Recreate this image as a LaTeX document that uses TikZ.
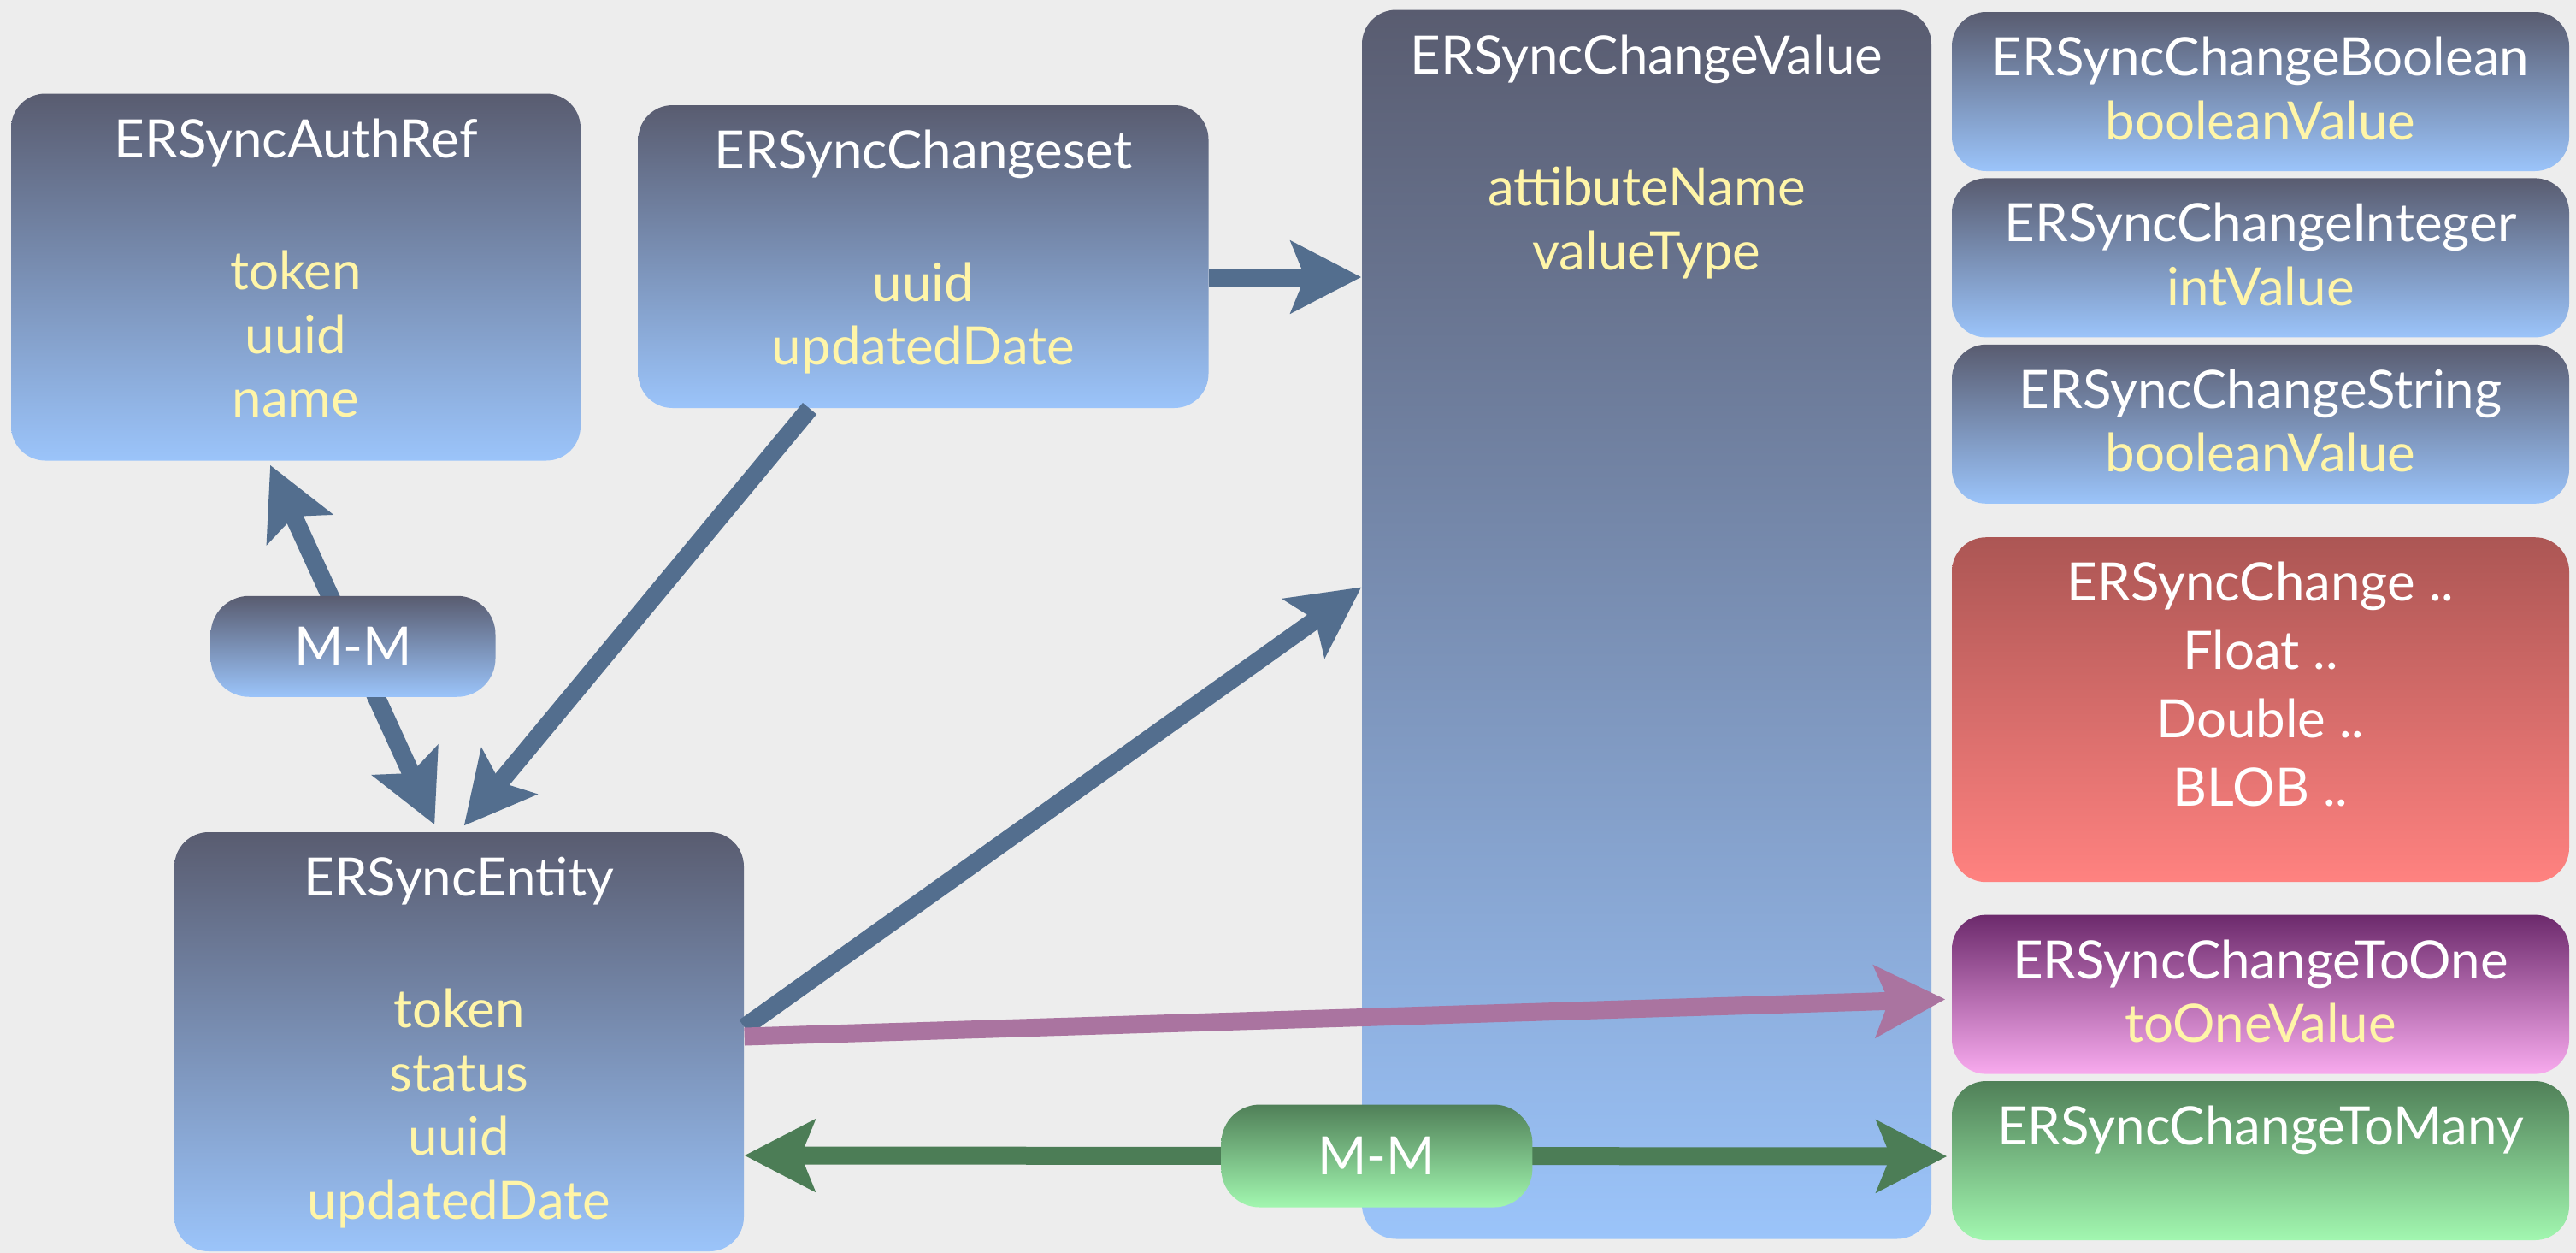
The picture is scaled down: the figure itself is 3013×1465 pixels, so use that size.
\documentclass[tikz,border=0pt]{standalone}
\usepackage{fontspec}
\setmainfont{Lato}
\usepackage{xcolor}
\usetikzlibrary{arrows.meta,positioning}

\definecolor{paper}{HTML}{EDEDED}
\definecolor{attr}{HTML}{FFF5A8}
\definecolor{slatetop}{HTML}{595C70}
\definecolor{slatebot}{HTML}{9BC4FA}
\definecolor{redtop}{HTML}{AC5654}
\definecolor{redbot}{HTML}{FF8280}
\definecolor{plumtop}{HTML}{6C2A6C}
\definecolor{plumbot}{HTML}{F8AAEE}
\definecolor{leaftop}{HTML}{508058}
\definecolor{leafbot}{HTML}{A2F7B0}
\definecolor{linkblue}{HTML}{536E8E}
\definecolor{linkplum}{HTML}{AA74A0}
\definecolor{linkleaf}{HTML}{4C7D56}

\newcommand{\boxfont}{\fontsize{17.6pt}{21.2pt}\selectfont}
\newcommand{\fld}[1]{\textcolor{attr}{#1}}

\begin{document}
\begin{tikzpicture}[x=0.1mm,y=-0.1mm,node distance=0.7mm,
  box/.style={shade,rounded corners=4mm,top color=#1top,bottom color=#1bot,inner sep=0pt,minimum width=66.6mm},
  box/.default=slate,
  side/.style={box=#1,minimum width=72.2mm,minimum height=18.6mm},
  side/.default=slate,
  head/.style={anchor=north,yshift=-2.9mm,inner sep=0pt,align=center,text=white,font=\boxfont},
  rel/.style={box=#1,rounded corners=4.5mm,minimum width=33.3mm,minimum height=11.8mm,text=white,font=\boxfont},
  rel/.default=slate,
  link/.style={line width=2.1mm,draw=#1},
  fat/.tip={Stealth[length=8.2mm,width=8.3mm,inset=1.6mm]}]

  \useasboundingbox (0,0) rectangle (3013,1465);
  \fill[paper] (0,0) rectangle (3013,1465);

  % left and middle entities
  \node[box,minimum height=42.9mm,
    label={[head]north:{ERSyncAuthRef\\[8mm]\fld{token}\\\fld{uuid}\\\fld{name}}}] (auth) at (346,324) {};
  \node[box,minimum width=66.7mm,minimum height=35.4mm,
    label={[head]north:{ERSyncChangeset\\[8mm]\fld{uuid}\\\fld{updatedDate}}}] (cs) at (1080,300) {};
  \node[box,minimum height=49mm,
    label={[head]north:{ERSyncEntity\\[8mm]\fld{token}\\\fld{status}\\\fld{uuid}\\\fld{updatedDate}}}] (ent) at (537,1218) {};
  \node[box,minimum height=143.7mm,
    label={[head]north:{ERSyncChangeValue\\[8mm]\fld{attibuteName}\\\fld{valueType}}}] (cv) at (1926,730) {};

  % value subclasses on the right
  \node[side,label={[head]north:{ERSyncChangeBoolean\\\fld{booleanValue}}}] (cbool) at (2644,107) {};
  \node[side,below=of cbool,label={[head]north:{ERSyncChangeInteger\\\fld{intValue}}}] (cint) {};
  \node[side,below=of cint,label={[head]north:{ERSyncChangeString\\\fld{booleanValue}}}] (cstr) {};
  \node[side=red,minimum height=40.3mm,below=3.8mm of cstr,
    label={[head]north:{ERSyncChange ..\\[0.55mm]Float ..\\[0.55mm]Double ..\\[0.55mm]BLOB ..}}] (cmore) {};
  \node[side=plum,below=3.7mm of cmore,label={[head]north:{ERSyncChangeToOne\\\fld{toOneValue}}}] (cone) {};
  \node[side=leaf,below=of cone,label={[head]north:{ERSyncChangeToMany}}] (cmany) {};

  % relations
  \draw[link=linkblue,-fat] ([yshift=-2.4mm]cs.east) -- ([yshift=-2.4mm]cs.east -| cv.west);
  \draw[link=linkblue,-fat,shorten >=0.9mm] ([xshift=-13.3mm]cs.south) -- (ent.north);
  \draw[link=linkblue,fat-fat,shorten <=0.5mm,shorten >=0.9mm] ([xshift=-3.2mm]auth.south)
    -- node[rel] (mm1) {M-M} ([xshift=-2.5mm]ent.north);
  \draw[link=linkblue,-fat] ([yshift=1.7mm]ent.east) -- ([yshift=4.35mm]cv.west);
  \draw[link=linkplum,-fat,shorten >=0.7mm] ([yshift=0.6mm]ent.east) -- ([yshift=-0.55mm]cone.west);
  \draw[link=linkleaf,fat-fat,shorten >=0.5mm] ([yshift=-13.3mm]ent.east)
    -- node[rel=leaf,pos=0.524,minimum width=36.4mm,minimum height=12mm] (mm2) {M-M} ([yshift=0.5mm]cmany.west);
\end{tikzpicture}
\end{document}
